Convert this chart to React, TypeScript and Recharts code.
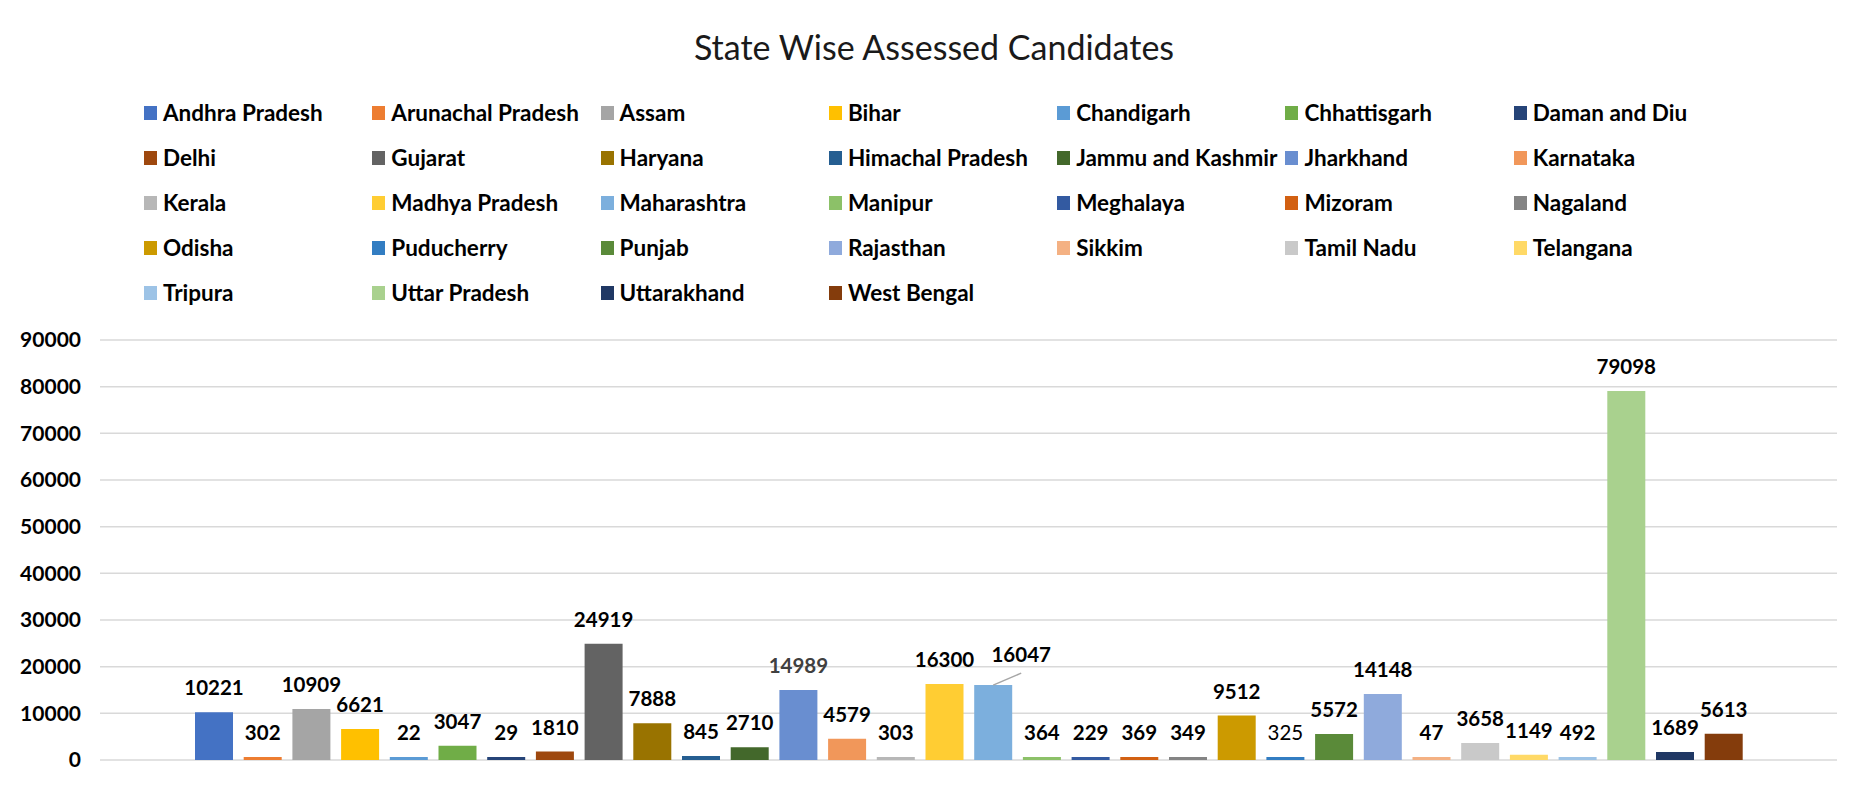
import React from "react";
import {
  BarChart,
  Bar,
  XAxis,
  YAxis,
  CartesianGrid,
  Legend,
  LabelList,
} from "recharts";

const STATES = [
  "Andhra Pradesh", "Arunachal Pradesh", "Assam", "Bihar", "Chandigarh", "Chhattisgarh", "Daman and Diu",
  "Delhi", "Gujarat", "Haryana", "Himachal Pradesh", "Jammu and Kashmir", "Jharkhand", "Karnataka",
  "Kerala", "Madhya Pradesh", "Maharashtra", "Manipur", "Meghalaya", "Mizoram", "Nagaland",
  "Odisha", "Puducherry", "Punjab", "Rajasthan", "Sikkim", "Tamil Nadu", "Telangana",
  "Tripura", "Uttar Pradesh", "Uttarakhand", "West Bengal",
];

const CANDIDATES = [
  10221, 302, 10909, 6621, 22, 3047, 29,
  1810, 24919, 7888, 845, 2710, 14989, 4579,
  303, 16300, 16047, 364, 229, 369, 349,
  9512, 325, 5572, 14148, 47, 3658, 1149,
  492, 79098, 1689, 5613,
];

const COLORS = [
  "#4472C4", "#ED7D31", "#A5A5A5", "#FFC000", "#5B9BD5", "#70AD47", "#264478",
  "#9E480E", "#636363", "#997300", "#255E91", "#43682B", "#698ED0", "#F1975A",
  "#B7B7B7", "#FFCD33", "#7CAFDD", "#8CC168", "#335AA1", "#D26012", "#848484",
  "#CC9A00", "#327DC2", "#5A8A39", "#8FAADC", "#F4B183", "#C9C9C9", "#FFD966",
  "#9DC3E6", "#A9D18E", "#203864", "#843C0C",
];

const Y_TICKS = [0, 10000, 20000, 30000, 40000, 50000, 60000, 70000, 80000, 90000];

const FONT = "Lato, 'Noto Sans', sans-serif";

// one category row, one key per state (Excel-style: every state is its own series)
const data = [
  STATES.reduce<Record<string, number | string>>(
    (row, s, i) => {
      row[s] = CANDIDATES[i];
      return row;
    },
    { name: "Assessed" }
  ),
];

function labelStyle(state: string) {
  if (state === "Jharkhand") return { fill: "#404040", fontWeight: 700 };
  if (state === "Puducherry") return { fill: "#000", fontWeight: 400 };
  return { fill: "#000", fontWeight: 700 };
}

// Maharashtra label was dragged aside in the original, with a leader line
const MovedLabel = (props: any) => {
  const { x, y, width, value } = props;
  const cx = x + width / 2;
  return (
    <g>
      <line x1={cx} y1={y} x2={cx + 28} y2={y - 12} stroke="#a6a6a6" strokeWidth={1.5} />
      <text
        x={cx + 28}
        y={y - 23}
        textAnchor="middle"
        fontFamily={FONT}
        fontSize={20.5}
        fontWeight={700}
        fill="#000"
      >
        {value}
      </text>
    </g>
  );
};

const LegendGrid = (props: any) => {
  const items = props.payload || [];
  return (
    <div
      style={{
        display: "grid",
        gridTemplateColumns: "repeat(7, 228.3px)",
        gridAutoRows: "45px",
        fontFamily: FONT,
        fontWeight: 700,
        fontSize: 22.5,
        color: "#000",
        textAlign: "left",
      }}
    >
      {items.map((it: any) => (
        <div key={it.value} style={{ display: "flex", alignItems: "center", whiteSpace: "nowrap" }}>
          <span
            style={{
              display: "inline-block",
              width: 13,
              height: 14,
              background: it.color,
              marginRight: 6,
              flex: "none",
            }}
          />
          <span>{it.value}</span>
        </div>
      ))}
    </div>
  );
};

export default function App() {
  return (
    <div
      style={{
        position: "relative",
        width: 1868,
        height: 794,
        margin: -8,
        background: "#fff",
      }}
    >
      <div
        style={{
          position: "absolute",
          left: 2,
          top: 4,
          width: 1862,
          height: 785,
          border: "1px solid #d9d9d9",
          boxSizing: "border-box",
        }}
      />
      <div
        style={{
          position: "absolute",
          left: 0,
          width: 1868,
          top: 22,
          textAlign: "center",
          fontFamily: FONT,
          fontSize: 34,
          color: "#1a1a1a",
          lineHeight: "50px",
        }}
      >
        State Wise Assessed Candidates
      </div>
      <BarChart
        width={1868}
        height={794}
        data={data}
        margin={{ top: 340, right: 31, bottom: 34, left: 8 }}
        barGap={10.7}
      >
        <CartesianGrid vertical={false} stroke="#d9d9d9" strokeWidth={1.5} />
        <XAxis
          dataKey="name"
          tick={false}
          tickLine={false}
          height={0}
          axisLine={{ stroke: "#d0d0d0", strokeWidth: 1.5 }}
        />
        <YAxis
          width={92}
          domain={[0, 90000]}
          ticks={Y_TICKS}
          interval={0}
          axisLine={false}
          tickLine={false}
          tickSize={0}
          tickMargin={19}
          tick={{ fill: "#000", fontFamily: FONT, fontWeight: 700, fontSize: 21 }}
        />
        <Legend
          layout="horizontal"
          verticalAlign="middle"
          align="center"
          content={<LegendGrid />}
          wrapperStyle={{ top: 90, left: 144, width: 1600, height: 225 }}
        />
        {STATES.map((s, i) => (
          <Bar
            key={s}
            dataKey={s}
            name={s}
            fill={COLORS[i]}
            barSize={38}
            minPointSize={3}
            isAnimationActive={false}
          >
            {s === "Maharashtra" ? (
              <LabelList dataKey={s} content={<MovedLabel />} />
            ) : (
              <LabelList
                dataKey={s}
                position="top"
                offset={17}
                style={{ fontFamily: FONT, fontSize: 20.5, ...labelStyle(s) }}
              />
            )}
          </Bar>
        ))}
      </BarChart>
    </div>
  );
}
